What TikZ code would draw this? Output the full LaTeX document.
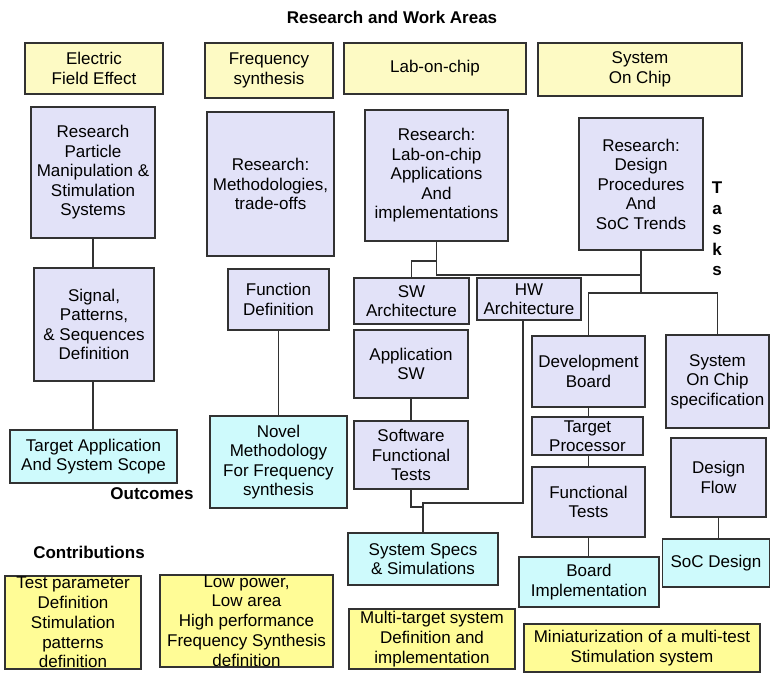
\documentclass[tikz,border=0pt]{standalone}
\usepackage{fontspec}
\setmainfont{Liberation Sans}
\usetikzlibrary{calc}

\definecolor{areaY}{RGB}{253,250,196}
\definecolor{contribY}{RGB}{255,252,150}
\definecolor{taskL}{RGB}{226,226,248}
\definecolor{outC}{RGB}{206,250,252}
\definecolor{edge}{RGB}{50,50,50}

\tikzset{
  box/.style={draw=edge, line width=1.4pt, align=center, inner sep=0pt,
    font=\fontsize{17}{19.5}\selectfont},
  area/.style={box, fill=areaY},
  task/.style={box, fill=taskL},
  outcome/.style={box, fill=outC},
  contrib/.style={box, fill=contribY, font=\fontsize{17}{19.8}\selectfont},
  heading/.style={font=\bfseries\fontsize{17}{20.5}\selectfont, align=center, inner sep=0pt},
  link/.style={draw=edge, line width=1.4pt}
}

\begin{document}
\begin{tikzpicture}[x=1pt, y=-1pt]
  \fill[white] (0,0) rectangle (771,675);
  \useasboundingbox (0,0) rectangle (771,675);

  % headings
  \node[heading] (title) at (392,17) {Research and Work Areas};
  \node[heading] (outc) at (152,494) {Outcomes};
  \node[heading] (contr) at (89,552) {Contributions};
  \node[heading] (tasks) at (717,229) {T\\a\\s\\k\\s};

  % research and work areas
  \node[area, minimum width=138, minimum height=51] (efe) at (94,68.5) {Electric\\Field Effect};
  \node[area, minimum width=128, minimum height=55] (fs) at (269,70.5) {Frequency\\synthesis};
  \node[area, minimum width=182, minimum height=51] (loc) at (435,68.5) {Lab-on-chip};
  \node[area, minimum width=204, minimum height=53] (soc) at (640,69.5) {System\\On Chip};

  % research tasks
  \node[task, minimum width=124, minimum height=131] (rpm) at (93,172.5)
    {Research\\Particle\\Manipulation \&\\Stimulation\\Systems};
  \node[task, minimum width=127, minimum height=144] (rmt) at (270.5,184)
    {Research:\\Methodologies,\\trade-offs};
  \node[task, minimum width=143, minimum height=131] (rloc) at (436.5,175.5)
    {Research:\\Lab-on-chip\\Applications\\And\\implementations};
  \node[task, minimum width=124, minimum height=132] (rdp) at (641,184)
    {Research:\\Design\\Procedures\\And\\SoC Trends};

  % electric field effect column
  \node[task, minimum width=120, minimum height=113] (spsd) at (94,324.5)
    {Signal,\\Patterns,\\\& Sequences\\Definition};
  \node[outcome, minimum width=167, minimum height=53] (tas) at (93.5,456.5)
    {Target Application\\And System Scope};

  % frequency synthesis column
  \node[task, minimum width=101, minimum height=61] (fd) at (278.5,299.5)
    {Function\\Definition};
  \node[outcome, minimum width=137, minimum height=92] (nm) at (278.5,462)
    {Novel\\Methodology\\For Frequency\\synthesis};

  % lab-on-chip column
  \node[task, minimum width=115, minimum height=46] (swa) at (411.5,301) {SW\\Architecture};
  \node[task, minimum width=104, minimum height=42] (hwa) at (529,299) {HW\\Architecture};
  \node[task, minimum width=114, minimum height=68] (asw) at (411,364) {Application\\SW};
  \node[task, minimum width=114, minimum height=68] (sft) at (411,455)
    {Software\\Functional\\Tests};
  \node[outcome, minimum width=150, minimum height=52] (sss) at (423,559)
    {System Specs\\\& Simulations};

  % development board column
  \node[task, minimum width=113, minimum height=71] (db) at (588.5,371.5) {Development\\Board};
  \node[task, minimum width=111, minimum height=38] (tp) at (587.5,436) {Target\\Processor};
  \node[task, minimum width=113, minimum height=70] (ft) at (588.5,502) {Functional\\Tests};
  \node[outcome, minimum width=140, minimum height=50] (bi) at (589,582) {Board\\Implementation};

  % system on chip column
  \node[task, minimum width=103, minimum height=93] (socs) at (717.5,381.5)
    {System\\On Chip\\specification};
  \node[task, minimum width=95, minimum height=79] (df) at (718.5,477.5) {Design\\Flow};
  \node[outcome, minimum width=107, minimum height=48] (socd) at (716,563) {SoC Design};

  % contributions
  \node[contrib, minimum width=136, minimum height=93] (tpd) at (73,622.5)
    {Test parameter\\Definition\\Stimulation\\patterns\\definition};
  \node[contrib, minimum width=173, minimum height=92] (lp) at (246.5,621)
    {Low power,\\Low area\\High performance\\Frequency Synthesis\\definition};
  \node[contrib, minimum width=166, minimum height=60] (mt) at (432,639)
    {Multi-target system\\Definition and\\implementation};
  \node[contrib, minimum width=236, minimum height=48] (mini) at (642,648)
    {Miniaturization of a multi-test\\Stimulation system};

  % junction points of the connector tree
  \coordinate (locbus) at (437,275);
  \coordinate (socbus) at (639,293);
  \coordinate (hwdrop) at (523,503);
  \coordinate (swjoin) at (0,507);

  % vertical chains
  \draw[link] (rpm.south) -- (rpm.south |- spsd.north);
  \draw[link] (rpm.south |- spsd.south) -- (rpm.south |- tas.north);
  \draw[link] (fd.south) -- (fd.south |- nm.north);
  \draw[link] (asw.south) -- (asw.south |- sft.north);
  \draw[link] (db.south) -- (db.south |- tp.north);
  \draw[link] (db.south |- tp.south) -- (db.south |- ft.north);
  \draw[link] (ft.south) -- (ft.south |- bi.north);
  \draw[link] (df.south) -- (df.south |- socd.north);

  % lab-on-chip and system on chip branches
  \draw[link] (rloc.south) -- (rloc.south |- locbus) -- (rdp.south |- locbus);
  \draw[link] (rloc.south |- 0,261) -| (swa.north);
  \draw[link] (rdp.south) -- (rdp.south |- socbus);
  \draw[link] (db.north) |- (socs.north |- socbus) -- (socs.north);

  % hardware and software paths into the system specs
  \draw[link] (hwa.south -| hwdrop) -- (hwdrop) -| (sss.north);
  \draw[link] (sft.south) |- (sss.north |- swjoin);
\end{tikzpicture}
\end{document}
